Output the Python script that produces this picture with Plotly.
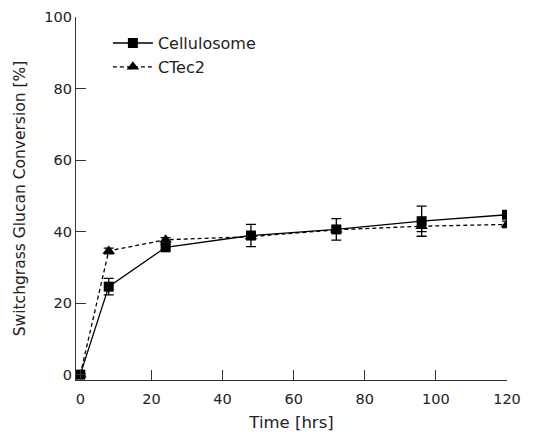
import plotly.graph_objects as go

time_hrs = [0, 8, 24, 48, 72, 96, 120]
cellulosome = [0, 24.6, 35.6, 38.9, 40.6, 42.9, 44.7]
cellulosome_err = [0.5, 2.3, 0.8, 3.1, 3.0, 4.2, 0.8]
ctec2 = [0, 34.6, 37.7, 38.6, 40.5, 41.5, 42.0]
ctec2_err = [0.3, 0.8, 0.6, 0.5, 0.8, 1.5, 0.9]

fig = go.Figure()
fig.add_trace(go.Scatter(
    x=time_hrs, y=cellulosome, name="Cellulosome", mode="lines+markers",
    line=dict(color="black", width=1.3),
    marker=dict(symbol="square", size=10, color="black"),
    error_y=dict(type="data", array=cellulosome_err, color="black", thickness=1.3, width=5),
))
fig.add_trace(go.Scatter(
    x=time_hrs, y=ctec2, name="CTec2", mode="lines+markers",
    line=dict(color="black", width=1.3, dash="4px,3px"),
    marker=dict(symbol="triangle-up", size=11, color="black"),
    error_y=dict(type="data", array=ctec2_err, color="black", thickness=1.3, width=5),
))

axis_common = dict(
    showline=True, linecolor="#333", linewidth=1.3, ticks="inside", ticklen=10,
    tickwidth=1.3, tickcolor="#333", showgrid=False, zeroline=False, mirror=False,
    tickfont=dict(size=14.5, color="#222"), automargin=False,
)
fig.update_xaxes(range=[-1.2, 120], tickvals=[0, 20, 40, 60, 80, 100, 120],
                 ticklabelstandoff=5,
                 title=dict(text="Time [hrs]", font=dict(size=16.5, color="#222"), standoff=11),
                 **axis_common)
fig.update_yaxes(range=[-1.5, 100], tickvals=[0, 20, 40, 60, 80, 100],
                 title=dict(text="Switchgrass Glucan Conversion [%]", font=dict(size=15.5, color="#222"), standoff=14),
                 **axis_common)

fig.update_layout(
    width=541, height=432,
    margin=dict(l=76, r=34, t=17, b=52),
    paper_bgcolor="white", plot_bgcolor="white",
    font=dict(family="DejaVu Sans", color="#222"),
    showlegend=True,
    legend=dict(x=0.074, y=0.975, xanchor="left", yanchor="top",
                font=dict(size=16, color="#222"), bgcolor="rgba(0,0,0,0)",
                tracegroupgap=0, itemwidth=40),
)
fig.write_html("out.html")
